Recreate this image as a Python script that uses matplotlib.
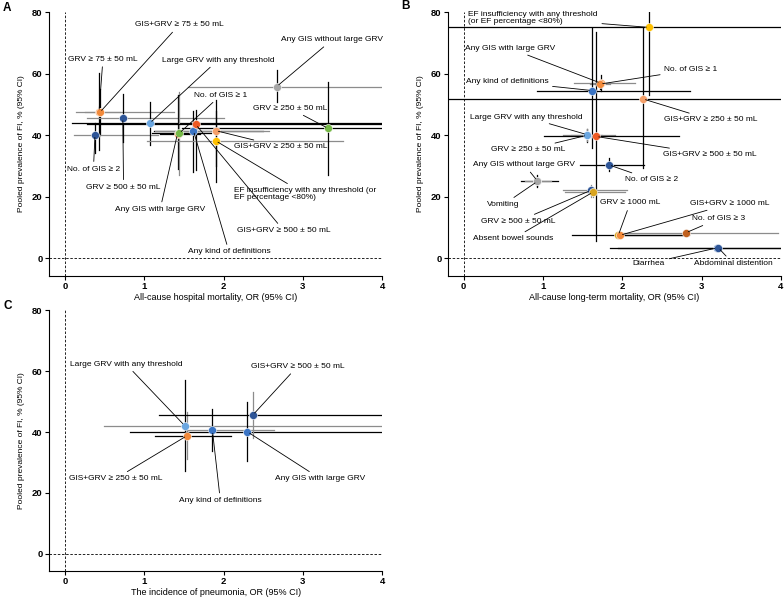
import matplotlib.pyplot as plt

# Police proche d'Arial
plt.rcParams['font.family'] = ['Liberation Sans', 'DejaVu Sans']

# ---------------- Donnees panneau A : mortalite hospitaliere ----------------
a_names = ["GRV ≥ 75 ± 50 mL", "GIS+GRV ≥ 75 ± 50 mL", "No. of GIS ≥ 2", "GRV ≥ 500 ± 50 mL",
           "Large GRV with any threshold", "Any GIS with large GRV", "No. of GIS ≥ 1",
           "Any kind of definitions", "GIS+GRV ≥ 500 ± 50 mL", "GIS+GRV ≥ 250 ± 50 mL",
           "EF insufficiency with any threshold (or\nEF percentage <80%)",
           "Any GIS without large GRV", "GRV ≥ 250 ± 50 mL"]
a_or = [0.43, 0.44, 0.38, 0.73, 1.07, 1.42, 1.44, 1.62, 1.65, 1.90, 1.90, 2.67, 3.32]
a_or_lo = [0.14, 0.25, 0.12, 0.28, 0.09, 1.20, 1.10, 1.12, 0.28, 1.14, 1.04, 1.55, 1.48]
a_or_hi = [1.37, 0.70, 1.17, 2.00, 4.50, 1.70, 1.84, 2.50, 4.50, 2.57, 3.51, 4.50, 4.50]
a_prev = [47.6, 47.4, 40.2, 45.6, 43.9, 40.5, 40.6, 41.5, 43.5, 41.5, 38.2, 55.8, 42.2]
a_prev_lo = [35.2, 40.0, 34.1, 37.9, 36.8, 29.0, 27.1, 28.0, 28.7, 30.0, 24.9, 50.9, 27.1]
a_prev_hi = [60.1, 55.0, 44.0, 53.4, 50.9, 53.0, 54.1, 48.0, 48.2, 48.0, 51.4, 61.2, 57.4]

# ---------------- Donnees panneau B : mortalite a long terme ----------------
b_names = ["EF insufficiency with any threshold\n(or EF percentage <80%)", "Any GIS with large GRV",
           "No. of GIS ≥ 1", "Any kind of definitions", "GIS+GRV ≥ 250 ± 50 mL",
           "Large GRV with any threshold", "GRV ≥ 250 ± 50 mL", "GIS+GRV ≥ 500 ± 50 mL",
           "Any GIS without large GRV", "No. of GIS ≥ 2", "Vomiting", "GRV ≥ 500 ± 50 mL",
           "Absent bowel sounds", "GRV ≥ 1000 mL", "GIS+GRV ≥ 1000 mL", "No. of GIS ≥ 3",
           "Diarrhea", "Abdominal distention"]
b_or = [2.34, 1.73, 1.72, 1.62, 2.26, 1.555, 1.56, 1.67, 0.93, 1.83, 0.93, 1.605, 1.63,
        1.95, 1.97, 2.80, 3.20, 3.21]
b_or_lo = [-0.5, 1.39, 1.60, 0.92, -0.5, 1.25, 1.35, 1.02, 0.73, 1.47, 0.78, 1.25, 1.28,
           1.98, 1.37, 1.96, 1.95, 1.85]
b_or_hi = [4.5, 2.16, 1.85, 2.86, 4.5, 1.91, 1.75, 2.72, 1.19, 2.28, 1.10, 2.06, 2.04,
           2.83, 2.84, 3.97, 4.5, 4.5]
b_prev = [75.0, 56.9, 56.6, 54.5, 51.8, 40.2, 40.0, 39.6, 25.2, 30.4, 25.0, 22.1, 21.5,
          7.45, 7.5, 8.3, 3.45, 3.5]
b_prev_lo = [53.1, 54.5, 55.0, 36.0, 29.4, 37.7, 38.0, 5.6, 23.2, 28.3, 23.5, 20.0, 20.0,
             6.5, 6.5, 7.3, 2.5, 2.5]
b_prev_hi = [85.0, 59.5, 58.0, 74.7, 74.7, 42.0, 42.0, 73.6, 27.2, 32.6, 26.5, 24.0, 23.0,
             8.5, 8.5, 9.3, 4.5, 4.5]

# ---------------- Donnees panneau C : pneumonie ----------------
c_names = ["Large GRV with any threshold", "GIS+GRV ≥ 250 ± 50 mL", "Any kind of definitions",
           "Any GIS with large GRV", "GIS+GRV ≥ 500 ± 50 mL"]
c_or = [1.51, 1.54, 1.86, 2.30, 2.37]
c_or_lo = [0.49, 1.13, 1.53, 0.82, 1.19]
c_or_hi = [4.5, 2.10, 2.63, 4.5, 4.5]
c_prev = [42.1, 38.8, 40.5, 40.1, 45.6]
c_prev_lo = [27.2, 31.0, 33.7, 30.4, 38.0]
c_prev_hi = [57.1, 46.6, 47.4, 49.9, 53.3]

# Couleurs
ORANGE = '#F28A3B'
DBLUE = '#2E5597'
BLUE = '#3A74C4'
LBLUE = '#6AA6E0'
GREEN = '#76B947'
RED = '#EE5A24'
LORANGE = '#F5A06A'
YELLOW = '#FFC000'
GRAY = '#A6A6A6'
BROWN = '#C0601E'
GOLD = '#D9A520'
K = 'black'
G = '#8c8c8c'

a_colors = [ORANGE, ORANGE, DBLUE, DBLUE, LBLUE, ORANGE, GREEN, BLUE, RED, LORANGE, YELLOW, GRAY, GREEN]
a_hcol = [G, G, G, G, K, K, K, K, K, G, G, G, K]
a_vcol = [K, K, K, K, K, K, G, K, K, K, K, K, K]
b_colors = [YELLOW, ORANGE, ORANGE, BLUE, LORANGE, LBLUE, LBLUE, RED, GRAY, DBLUE, GRAY, DBLUE, GOLD,
            GOLD, ORANGE, BROWN, BLUE, DBLUE]
b_hcol = [K, G, G, K, K, G, G, K, K, K, G, G, G, K, K, G, K, K]
b_vcol = [K, K, K, K, K, K, G, K, K, K, K, G, G, K, K, K, K, K]
c_colors = [LBLUE, ORANGE, BLUE, BLUE, DBLUE]
c_hcol = [G, K, G, K, K]
c_vcol = [K, G, K, K, G]

# Positions des etiquettes (x, y, alignement)
a_text = [(0.48, 64.7, 'center'), (1.44, 75.8, 'center'), (0.36, 29.0, 'center'),
          (0.74, 23.1, 'center'), (1.93, 64.4, 'center'), (1.20, 15.9, 'center'),
          (1.63, 53.0, 'left'), (2.07, 2.1, 'center'), (2.17, 9.0, 'left'),
          (2.13, 36.3, 'left'), (2.13, 20.9, 'left'), (3.37, 71.0, 'center'),
          (2.84, 48.7, 'center')]
b_text = [(0.06, 78.0, 'left'), (1.155, 68.2, 'right'), (2.53, 61.2, 'left'),
          (1.07, 57.4, 'right'), (2.53, 45.0, 'left'), (0.79, 45.9, 'center'),
          (1.28, 35.3, 'right'), (2.52, 33.7, 'left'), (1.41, 30.4, 'right'),
          (2.03, 25.6, 'left'), (0.71, 17.5, 'right'), (1.16, 12.1, 'right'),
          (1.13, 6.4, 'right'), (2.10, 18.0, 'center'), (2.86, 17.8, 'left'),
          (2.88, 12.9, 'left'), (2.54, -1.6, 'right'), (2.90, -1.6, 'left')]
c_text = [(0.77, 62.3, 'center'), (1.23, 24.7, 'right'), (1.96, 17.5, 'center'),
          (2.65, 24.7, 'left'), (2.93, 61.5, 'center')]


def panel(ax, names, xs, xlo, xhi, ys, ylo, yhi, colors, hcol, vcol, texts, xlabel):
    ax.set_xlim(-0.2, 4)
    ax.set_ylim(-5.7, 80)
    ax.axvline(0, color='k', ls=(0, (3, 2)), lw=0.6)
    ax.axhline(0, color='k', ls=(0, (3, 2)), lw=0.6)
    # intervalles de confiance
    for i in range(len(xs)):
        ax.plot([xlo[i], xhi[i]], [ys[i], ys[i]], color=hcol[i], lw=0.9, zorder=2)
        ax.plot([xs[i], xs[i]], [ylo[i], yhi[i]], color=vcol[i], lw=0.9, zorder=2)
    # points
    for i in range(len(xs)):
        ax.plot(xs[i], ys[i], 'o', color=colors[i], ms=5.8, mec='white', mew=0.4, zorder=4)
    # etiquettes
    for i in range(len(xs)):
        tx, ty, ha = texts[i]
        ax.annotate(names[i], xy=(xs[i], ys[i]), xytext=(tx, ty), ha=ha, va='center',
                    fontsize=6.0, zorder=5, linespacing=1.0,
                    arrowprops=dict(arrowstyle='-', lw=0.6, color='k', shrinkA=1, shrinkB=2))
    ax.spines['top'].set_visible(False)
    ax.spines['right'].set_visible(False)
    ax.set_xticks([0, 1, 2, 3, 4])
    ax.set_yticks([0, 20, 40, 60, 80])
    ax.tick_params(labelsize=6.8, length=3, width=0.8, pad=1.5)
    for lab in ax.get_xticklabels() + ax.get_yticklabels():
        lab.set_fontweight('bold')
    ax.set_xlabel(xlabel, fontsize=6.5, labelpad=1)
    ax.set_ylabel("Pooled prevalence of FI, % (95% CI)", fontsize=6.0, labelpad=5)


fig = plt.figure(figsize=(7.84, 6), dpi=100)
axA = fig.add_axes([0.0625, 0.54, 0.425, 0.44])
axB = fig.add_axes([0.571, 0.54, 0.425, 0.44])
axC = fig.add_axes([0.0625, 0.048, 0.425, 0.435])

panel(axA, a_names, a_or, a_or_lo, a_or_hi, a_prev, a_prev_lo, a_prev_hi, a_colors, a_hcol, a_vcol,
      a_text, "All-cause hospital mortality, OR (95% CI)")
panel(axB, b_names, b_or, b_or_lo, b_or_hi, b_prev, b_prev_lo, b_prev_hi, b_colors, b_hcol, b_vcol,
      b_text, "All-cause long-term mortality, OR (95% CI)")
panel(axC, c_names, c_or, c_or_lo, c_or_hi, c_prev, c_prev_lo, c_prev_hi, c_colors, c_hcol, c_vcol,
      c_text, "The incidence of pneumonia, OR (95% CI)")

# Lettres des panneaux
fig.text(0.004, 0.987, "A", fontsize=8.5, fontweight='bold', va='center')
fig.text(0.512, 0.990, "B", fontsize=8.5, fontweight='bold', va='center')
fig.text(0.004, 0.490, "C", fontsize=8.5, fontweight='bold', va='center')

plt.savefig("out.png", dpi=100)
